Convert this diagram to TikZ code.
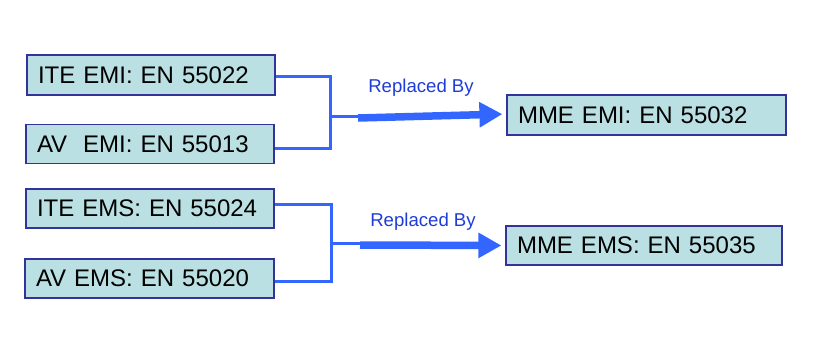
\documentclass[tikz,border=0pt]{standalone}
\usepackage{fontspec}
\setmainfont{Liberation Sans}
\usetikzlibrary{arrows.meta}
\definecolor{boxfill}{RGB}{186,224,227}
\definecolor{boxline}{RGB}{51,51,153}
\definecolor{linkblue}{RGB}{51,102,255}
\definecolor{labelblue}{RGB}{30,60,215}
\tikzset{
  stdbox/.style={draw=boxline, line width=0.6pt, fill=boxfill, minimum height=20pt,
    inner xsep=5.5pt, inner ysep=0pt, align=left, font=\fontsize{12}{14}\selectfont},
  joinline/.style={draw=linkblue, line width=1.5pt},
  bigarrow/.style={draw=linkblue, line width=3.75pt, shorten >=2pt,
    -{Triangle[length=11.5pt,width=12pt]}},
  replabel/.style={text=labelblue, font=\fontsize{9.3}{11}\selectfont}
}

\begin{document}
\begin{tikzpicture}[x={(0.5pt,0pt)},y={(0pt,-0.5pt)}]
\useasboundingbox (0,0) rectangle (828,354);

% EMI group
\node[stdbox, text width=113pt, minimum height=20pt]   (itemi)  at (151,75)    {ITE EMI: EN 55022};
\node[stdbox, text width=113pt, minimum height=19.5pt] (avemi)  at (150,144)   {AV\ \ EMI: EN 55013};
\node[stdbox, text width=128.5pt]                      (mmeemi) at (646.5,115) {MME EMI: EN 55032};
\coordinate (jemi) at (330,116);
\coordinate (semi) at (358,118);

\draw[joinline] ([yshift=-0.5pt]itemi.east) -| (jemi);
\draw[joinline] ([yshift=-2pt]avemi.east) -| (jemi);
\draw[joinline] (jemi) -- (358,116);
\draw[bigarrow] (semi) -- ([yshift=0.5pt]mmeemi.west);
\node[replabel] (repemi) at (421,88) {Replaced By};

% EMS group
\node[stdbox, text width=113pt, minimum height=19.5pt] (iteems) at (150,208.5)   {ITE EMS: EN 55024};
\node[stdbox, text width=113.5pt, minimum height=19.5pt] (avems) at (149.5,278.5) {AV EMS: EN 55020};
\node[stdbox, text width=127pt, minimum height=19.5pt] (mmeems) at (644,245.5)   {MME EMS: EN 55035};
\coordinate (jems) at (331,243);
\coordinate (sems) at (360,245);

\draw[joinline] ([yshift=2.25pt]iteems.east) -| (jems);
\draw[joinline] ([yshift=-1.25pt]avems.east) -| (jems);
\draw[joinline] (jems) -- (360,243);
\draw[bigarrow] (sems) -- (mmeems.west);
\node[replabel] (repems) at (423,222) {Replaced By};
\end{tikzpicture}
\end{document}
